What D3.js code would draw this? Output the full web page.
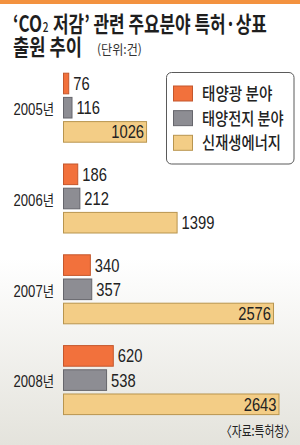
<!DOCTYPE html>
<html>
<head>
<meta charset="utf-8">
<script src="https://cdn.jsdelivr.net/npm/d3@7"></script>
<style>
  html, body { margin: 0; padding: 0; background: #fff; }
  svg { display: block; }
</style>
</head>
<body>
<div id="chart"></div>
<script>
// CO2 저감 관련 주요분야 특허·상표 출원 추이 (단위: 건)
const years = ["2005", "2006", "2007", "2008"]
const yearSuffix = "년"
const seriesNames = ["태양광 분야", "태양전지 분야", "신재생에너지"]
const solarPower = [76, 186, 340, 620]
const solarCell = [116, 212, 357, 538]
const renewable = [1026, 1399, 2576, 2643]
// labels drawn inside the bar end (renewable series)
const insideLabelYears = ["2005", "2007", "2008"]

const colors = ["#f2713c", "#8d8d93", "#f3cd86"]
const strokes = ["#c4572c", "#66666c", "#b8954f"]

const W = 300, H = 445
const numFont = "'Liberation Sans', Arial, sans-serif"
const krFont = "'Noto Sans CJK KR', sans-serif"
const narrow = 0.82

const data = years.map((y, i) => ({
  year: y,
  values: [solarPower[i], solarCell[i], renewable[i]]
}))

const svg = d3.select("#chart")
  .append("svg")
  .attr("width", W)
  .attr("height", H)

// squeeze a text horizontally so it spans the given width
function fitWidth(g, width) {
  const t = g.select("text")
  const w = t.node().getBBox().width
  const s = width / w
  const tr = g.attr("transform") || ""
  g.attr("transform", `${tr} scale(${s},1)`)
}

// Background gradient
const defs = svg.append("defs")
const bg = defs.append("linearGradient")
  .attr("id", "bg")
  .attr("x1", 0).attr("y1", 0).attr("x2", 0).attr("y2", 1)
bg.append("stop").attr("offset", "0%").attr("stop-color", "#ffffff")
bg.append("stop").attr("offset", "58%").attr("stop-color", "#ffffff")
bg.append("stop").attr("offset", "100%").attr("stop-color", "#e4e3dc")

svg.append("rect")
  .attr("width", W).attr("height", H)
  .attr("fill", "url(#bg)")

// Top stripe
svg.append("rect")
  .attr("x", 0).attr("y", 0)
  .attr("width", W).attr("height", 4)
  .attr("fill", "#f3923f")

// Title
const t1g = svg.append("g").attr("transform", "translate(13,32)")
const t1 = t1g.append("text")
  .attr("font-family", krFont)
  .attr("font-weight", 700)
  .attr("font-size", 22)
  .attr("fill", "#1e1e1e")
t1.append("tspan").text("‘CO")
t1.append("tspan").attr("dx", 1).attr("font-size", 13).attr("font-weight", 500).text("2")
t1.append("tspan").attr("dx", 1).text(" 저감’ 관련 주요분야 특허·상표")
fitWidth(t1g, 254)

const t2g = svg.append("g").attr("transform", "translate(13,54.5)")
t2g.append("text")
  .attr("font-family", krFont)
  .attr("font-weight", 700)
  .attr("font-size", 22)
  .attr("fill", "#1e1e1e")
  .text("출원 추이")
fitWidth(t2g, 69)

const ug = svg.append("g").attr("transform", "translate(97,53.5)")
ug.append("text")
  .attr("font-family", krFont)
  .attr("font-size", 13)
  .attr("fill", "#333")
  .text("(단위:건)")
fitWidth(ug, 45)

// Scales
const x = d3.scaleLinear()
  .domain([0, 2643])
  .range([63, 279.5])

const y0 = d3.scaleBand()
  .domain(years)
  .range([72.7, 415.1])
  .paddingInner(0.229)
  .paddingOuter(0)

const y1 = d3.scaleBand()
  .domain(d3.range(3))
  .range([0, y0.bandwidth()])
  .paddingInner(0.107)
  .paddingOuter(0)

// Groups
const groups = svg.selectAll(".group")
  .data(data)
  .join("g")
  .attr("class", "group")
  .attr("transform", d => `translate(0,${y0(d.year)})`)

const yearY = y1(1) + y1.bandwidth() / 2 + 1.5

groups.append("g")
  .attr("transform", `translate(54,${yearY}) scale(${narrow},1)`)
  .append("text")
  .attr("dy", "0.36em")
  .attr("text-anchor", "end")
  .attr("font-family", numFont)
  .attr("font-size", 16)
  .attr("fill", "#222")
  .each(function (d) {
    const t = d3.select(this)
    t.append("tspan").text(d.year)
    t.append("tspan").attr("font-family", krFont).attr("font-size", 15).text(yearSuffix)
  })

groups.selectAll("rect.bar")
  .data(d => d.values.map((v, i) => ({ v, i, year: d.year })))
  .join("rect")
  .attr("class", "bar")
  .attr("x", x(0) + 0.5)
  .attr("y", d => y1(d.i) + 0.5)
  .attr("width", d => x(d.v) - x(0) - 1)
  .attr("height", y1.bandwidth() - 1)
  .attr("fill", d => colors[d.i])
  .attr("stroke", d => strokes[d.i])
  .attr("stroke-width", 1)

groups.selectAll("g.val")
  .data(d => d.values.map((v, i) => ({ v, i, year: d.year, inside: i === 2 && insideLabelYears.includes(d.year) })))
  .join("g")
  .attr("class", "val")
  .attr("transform", d => `translate(${d.inside ? x(d.v) - 3 : x(d.v) + 4},${y1(d.i) + y1.bandwidth() / 2}) scale(${narrow},1)`)
  .append("text")
  .attr("text-anchor", d => d.inside ? "end" : "start")
  .attr("dy", "0.36em")
  .attr("font-family", numFont)
  .attr("font-size", 18)
  .attr("fill", "#222")
  .text(d => d.v)

// Legend
const legend = svg.append("g").attr("class", "legend")
legend.append("rect")
  .attr("x", 166.5).attr("y", 72.5)
  .attr("width", 127.5).attr("height", 91.5)
  .attr("rx", 5)
  .attr("fill", "#fff")
  .attr("stroke", "#5a5a5a")
  .attr("stroke-width", 1)

const legendY = d3.scalePoint()
  .domain(d3.range(3))
  .range([93.5, 142.8])

const legendWidths = [70.6, 82, 79]

const items = legend.selectAll(".item")
  .data(seriesNames)
  .join("g")
  .attr("class", "item")
  .attr("transform", (d, i) => `translate(0,${legendY(i)})`)

items.append("rect")
  .attr("x", 173.5).attr("y", -7.5)
  .attr("width", 19).attr("height", 15)
  .attr("fill", (d, i) => colors[i])
  .attr("stroke", (d, i) => strokes[i])

items.each(function (d, i) {
  const g = d3.select(this).append("g").attr("transform", "translate(202,0)")
  g.append("text")
    .attr("dy", "0.38em")
    .attr("font-family", krFont)
    .attr("font-weight", 500)
    .attr("font-size", 17)
    .attr("fill", "#222")
    .text(d)
  fitWidth(g, legendWidths[i])
})

// Source
const sg = svg.append("g").attr("transform", "translate(295,436)")
sg.append("text")
  .attr("text-anchor", "end")
  .attr("font-family", krFont)
  .attr("font-size", 14)
  .attr("fill", "#222")
  .text("〈자료:특허청〉")
fitWidth(sg, 74)
</script>
</body>
</html>
